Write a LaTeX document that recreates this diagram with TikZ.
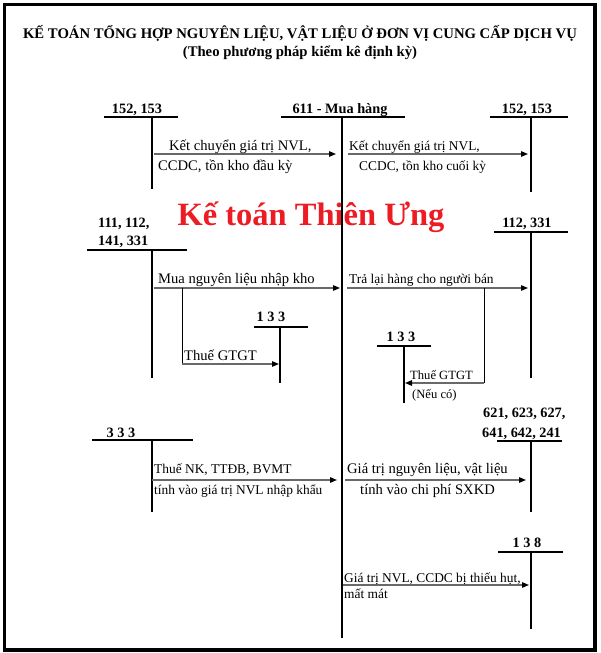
\documentclass[tikz,border=0pt]{standalone}
\usepackage{fontspec}
\setmainfont{Liberation Serif}
\usetikzlibrary{arrows.meta}
\begin{document}
\begin{tikzpicture}[x=1pt,y=-1pt,
 tline/.style={line width=1.2pt,black},
 mainline/.style={line width=2.4pt,black},
 thin/.style={line width=0.9pt,black},
 flow/.style={line width=1.3pt,draw={rgb,255:red,105;green,105;blue,105},-{Triangle[length=7pt,width=5.5pt,black]}},
 acct/.style={font=\fontsize{14.3}{16}\selectfont\bfseries,inner sep=0pt,anchor=base},
 acctw/.style={font=\fontsize{14.3}{16}\selectfont\bfseries,inner sep=0pt,anchor=base west},
 lblA/.style={inner sep=0pt,anchor=base west,font=\fontsize{14.6}{16}\selectfont},
 lblB/.style={inner sep=0pt,anchor=base west,font=\fontsize{13.4}{15}\selectfont},
 lblC/.style={inner sep=0pt,anchor=base west,font=\fontsize{12.6}{14}\selectfont},
 titlefont/.style={inner sep=0pt,anchor=base,font=\fontsize{14.7}{17}\selectfont\bfseries},
]
\useasboundingbox[fill=white] (0,0) rectangle (600,653);
\draw[line width=3.5pt] (4.5,4.5) rectangle (595,650);

% titles
\node[titlefont] (t1) at (300,38) {KẾ TOÁN TỔNG HỢP NGUYÊN LIỆU, VẬT LIỆU Ở ĐƠN VỊ CUNG CẤP DỊCH VỤ};
\node[titlefont] (t2) at (300,56) {(Theo phương pháp kiểm kê định kỳ)};

% watermark
\node[inner sep=0pt,anchor=base,text={rgb,255:red,237;green,28;blue,36},font=\fontsize{32.5}{36}\selectfont\bfseries] (wm) at (311,225) {Kế toán Thiên Ưng};

% main account 611
\node[acct] (m) at (340,113) {611 - Mua hàng};
\coordinate (mL) at (281,117); \coordinate (mR) at (405,117);
\coordinate (mT) at (342,117); \coordinate (mB) at (342,638);
\draw[tline] (mL) -- (mR);
\draw[mainline] (mT) -- (mB);

% left 152,153
\node[acct] (a1) at (137,113) {152, 153};
\coordinate (a1L) at (104,117); \coordinate (a1R) at (178,117);
\coordinate (a1T) at (152,117); \coordinate (a1B) at (152,189);
\draw[tline] (a1L) -- (a1R); \draw[tline] (a1T) -- (a1B);

% right 152,153
\node[acct] (b1) at (527,113) {152, 153};
\coordinate (b1L) at (490,117); \coordinate (b1R) at (568,117);
\coordinate (b1T) at (531,117); \coordinate (b1B) at (531,192);
\draw[tline] (b1L) -- (b1R); \draw[tline] (b1T) -- (b1B);

% arrows row 1
\coordinate (f1s) at (154,154); \coordinate (f1e) at (336,154);
\draw[flow] (f1s) -- (f1e);
\node[lblA] (f1a) at (169,150) {Kết chuyển giá trị NVL,};
\node[lblA] (f1b) at (158,170) {CCDC, tồn kho đầu kỳ};
\coordinate (f2s) at (348,154); \coordinate (f2e) at (528,154);
\draw[flow] (f2s) -- (f2e);
\node[lblB] (f2a) at (349,150) {Kết chuyển giá trị NVL,};
\node[lblB] (f2b) at (359,170) {CCDC, tồn kho cuối kỳ};

% left 111,112,141,331
\node[acctw] (a2a) at (98,227) {111, 112,};
\node[acctw] (a2b) at (98,245) {141, 331};
\coordinate (a2L) at (87,250); \coordinate (a2R) at (187,250);
\coordinate (a2T) at (152,250); \coordinate (a2B) at (152,378);
\draw[tline] (a2L) -- (a2R); \draw[tline] (a2T) -- (a2B);

% right 112,331
\node[acct] (b2) at (527,227) {112, 331};
\coordinate (b2L) at (494,232); \coordinate (b2R) at (568,232);
\coordinate (b2T) at (531,232); \coordinate (b2B) at (531,378);
\draw[tline] (b2L) -- (b2R); \draw[tline] (b2T) -- (b2B);

% row 2 arrows
\coordinate (f3s) at (154,288); \coordinate (f3e) at (340,288);
\draw[flow] (f3s) -- (f3e);
\node[lblA] (f3a) at (158,283) {Mua nguyên liệu nhập kho};
\coordinate (f4s) at (347,288); \coordinate (f4e) at (528,288);
\draw[flow] (f4s) -- (f4e);
\node[lblB] (f4a) at (349,283) {Trả lại hàng cho người bán};

% left 133
\node[acct] (c1) at (271,321) {1 3 3};
\coordinate (c1L) at (254,327); \coordinate (c1R) at (308,327);
\coordinate (c1T) at (280,327); \coordinate (c1B) at (280,383);
\draw[tline] (c1L) -- (c1R); \draw[tline] (c1T) -- (c1B);
\coordinate (br1t) at (182,288); \coordinate (br1b) at (182,364); \coordinate (br1e) at (279,364);
\draw[thin] (br1t) -- (br1b);
\draw[flow] (br1b) -- (br1e);
\node[lblA] (br1a) at (184,360) {Thuế GTGT};

% right 133
\node[acct] (c2) at (401,341) {1 3 3};
\coordinate (c2L) at (377,346); \coordinate (c2R) at (431,346);
\coordinate (c2T) at (404,346); \coordinate (c2B) at (404,403);
\draw[tline] (c2L) -- (c2R); \draw[tline] (c2T) -- (c2B);
\coordinate (br2t) at (484,288); \coordinate (br2b) at (484,383); \coordinate (br2e) at (405,383);
\draw[thin] (br2t) -- (br2b);
\draw[flow] (br2b) -- (br2e);
\node[lblC] (br2a) at (410,379) {Thuế GTGT};
\node[lblC] (br2c) at (412,398) {(Nếu có)};

% left 333
\node[acct] (a3) at (121,437) {3 3 3};
\coordinate (a3L) at (92,440); \coordinate (a3R) at (193,440);
\coordinate (a3T) at (152,440); \coordinate (a3B) at (152,512);
\draw[tline] (a3L) -- (a3R); \draw[tline] (a3T) -- (a3B);

% right 621...
\node[acctw] (b3a) at (483,417) {621, 623, 627,};
\node[acctw] (b3b) at (482,437) {641, 642, 241};
\coordinate (b3L) at (497,441); \coordinate (b3R) at (562,441);
\coordinate (b3T) at (531,441); \coordinate (b3B) at (531,512);
\draw[tline] (b3L) -- (b3R); \draw[tline] (b3T) -- (b3B);

% row 3 arrows
\coordinate (f5s) at (152,480); \coordinate (f5e) at (337,480);
\draw[flow] (f5s) -- (f5e);
\node[lblB] (f5a) at (154,473) {Thuế NK, TTĐB, BVMT};
\node[lblB] (f5b) at (154,494) {tính vào giá trị NVL nhập khẩu};
\coordinate (f6s) at (345,480); \coordinate (f6e) at (526,480);
\draw[flow] (f6s) -- (f6e);
\node[lblA] (f6a) at (347,473) {Giá trị nguyên liệu, vật liệu};
\node[lblA] (f6b) at (360,494) {tính vào chi phí SXKD};

% 138
\node[acct] (d1) at (527,547) {1 3 8};
\coordinate (d1L) at (498,552); \coordinate (d1R) at (563,552);
\coordinate (d1T) at (531,552); \coordinate (d1B) at (531,629);
\draw[tline] (d1L) -- (d1R); \draw[tline] (d1T) -- (d1B);
\coordinate (f7s) at (343,585); \coordinate (f7e) at (529,585);
\draw[flow] (f7s) -- (f7e);
\node[lblB] (f7a) at (344,582) {Giá trị NVL, CCDC bị thiếu hụt,};
\node[lblB] (f7b) at (344,598) {mất mát};
\end{tikzpicture}
\end{document}
